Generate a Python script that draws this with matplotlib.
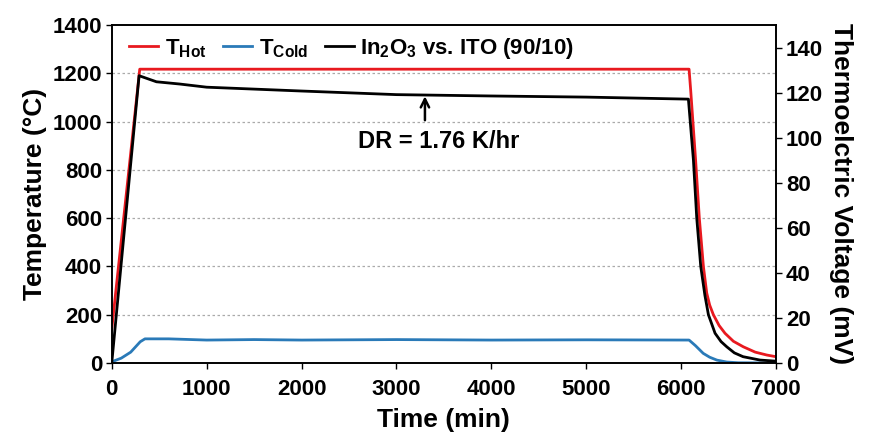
import matplotlib
matplotlib.use("Agg")
import matplotlib.pyplot as plt

plt.rcParams['font.family'] = ['Liberation Sans', 'DejaVu Sans']
plt.rcParams['font.weight'] = 'bold'
plt.rcParams['mathtext.fontset'] = 'custom'
plt.rcParams['mathtext.rm'] = 'Liberation Sans:bold'
plt.rcParams['mathtext.it'] = 'Liberation Sans:bold'
plt.rcParams['mathtext.bf'] = 'Liberation Sans:bold'

# T_hot (°C)
t_hot = [0, 295, 1000, 2000, 3000, 4000, 5000, 6083, 6100, 6152, 6191, 6234, 6269, 6300,
         6339, 6400, 6462, 6550, 6655, 6780, 6902, 7000]
T_hot = [140, 1217, 1217, 1217, 1217, 1217, 1217, 1217, 1130, 840, 600, 400, 290, 240,
         200, 155, 123, 90, 67, 45, 33, 26]

# T_cold (°C)
t_cold = [0, 100, 200, 300, 350, 600, 1000, 1500, 2000, 3000, 4000, 5000, 6083, 6150,
          6232, 6300, 6376, 6480, 6600, 7000]
T_cold = [5, 20, 45, 88, 100, 100, 95, 97, 95, 97, 95, 96, 95, 72,
          40, 24, 12, 4, 1, 0]

# Thermoelectric voltage (mV)
t_v = [0, 288, 471, 717, 1000, 2000, 3000, 4000, 5000, 6076, 6129, 6164, 6206, 6250,
       6287, 6357, 6420, 6480, 6560, 6652, 6831, 7000]
V = [0, 127.5, 124.8, 123.8, 122.4, 120.7, 119.1, 118.5, 118.0, 117.1, 90.0, 64.3, 42.9, 30.0,
     21.4, 13.2, 9.5, 7.2, 4.5, 2.8, 1.3, 0.8]

x_ticks = [0, 1000, 2000, 3000, 4000, 5000, 6000, 7000]
y1_ticks = [0, 200, 400, 600, 800, 1000, 1200, 1400]
y2_ticks = [0, 20, 40, 60, 80, 100, 120, 140]

fig = plt.figure(figsize=(8.73, 4.34), dpi=100)
ax1 = fig.add_axes([0.128, 0.1636, 0.761, 0.7788])
ax2 = ax1.twinx()

red = '#e8191f'
blue = '#2a7ab8'

l1, = ax1.plot(t_hot, T_hot, color=red, lw=2.0, label=r'T$_{\rm Hot}$')
l2, = ax1.plot(t_cold, T_cold, color=blue, lw=2.0, label=r'T$_{\rm Cold}$')
l3, = ax2.plot(t_v, V, color='black', lw=2.0, label=r'In$_{\rm 2}$O$_{\rm 3}$ vs. ITO (90/10)')

ax1.set_xlim(0, 7000)
ax1.set_ylim(0, 1400)
ax2.set_ylim(0, 150)
ax1.set_xticks(x_ticks)
ax1.set_yticks(y1_ticks)
ax2.set_yticks(y2_ticks)

for y in y1_ticks[1:-1]:
    ax1.axhline(y, color='#aaaaaa', lw=0.9, ls=(0, (2, 2)), zorder=0)

ax1.tick_params(axis='y', labelsize=16, width=1, length=4, direction='out', pad=3)
ax1.tick_params(axis='x', labelsize=16, width=1, length=4, direction='out', pad=7.5)
ax2.tick_params(labelsize=16, width=1, length=4, direction='out', pad=3)
for ax in (ax1, ax2):
    for s in ax.spines.values():
        s.set_linewidth(1.2)

ax1.set_xlabel('Time (min)', fontsize=19, fontweight='bold', labelpad=6)
ax1.set_ylabel('Temperature (°C)', fontsize=19, fontweight='bold', labelpad=4)
ax2.set_ylabel('Thermoelctric Voltage (mV)', fontsize=19, fontweight='bold', rotation=270, labelpad=22)

ax2.annotate('', xy=(3300, 119.6), xytext=(3300, 106.5),
             arrowprops=dict(arrowstyle='->', color='black', lw=1.8, mutation_scale=15))
ax2.text(3440, 103.5, 'DR = 1.76 K/hr', fontsize=17, fontweight='bold', ha='center', va='top')

leg = ax2.legend(handles=[l1, l2, l3], loc='upper left', ncol=3, frameon=False,
                 fontsize=16, handlelength=1.3, handletextpad=0.3, columnspacing=0.75,
                 borderaxespad=0.1, bbox_to_anchor=(0.01, 1.0))

fig.savefig('out.png', dpi=100)
